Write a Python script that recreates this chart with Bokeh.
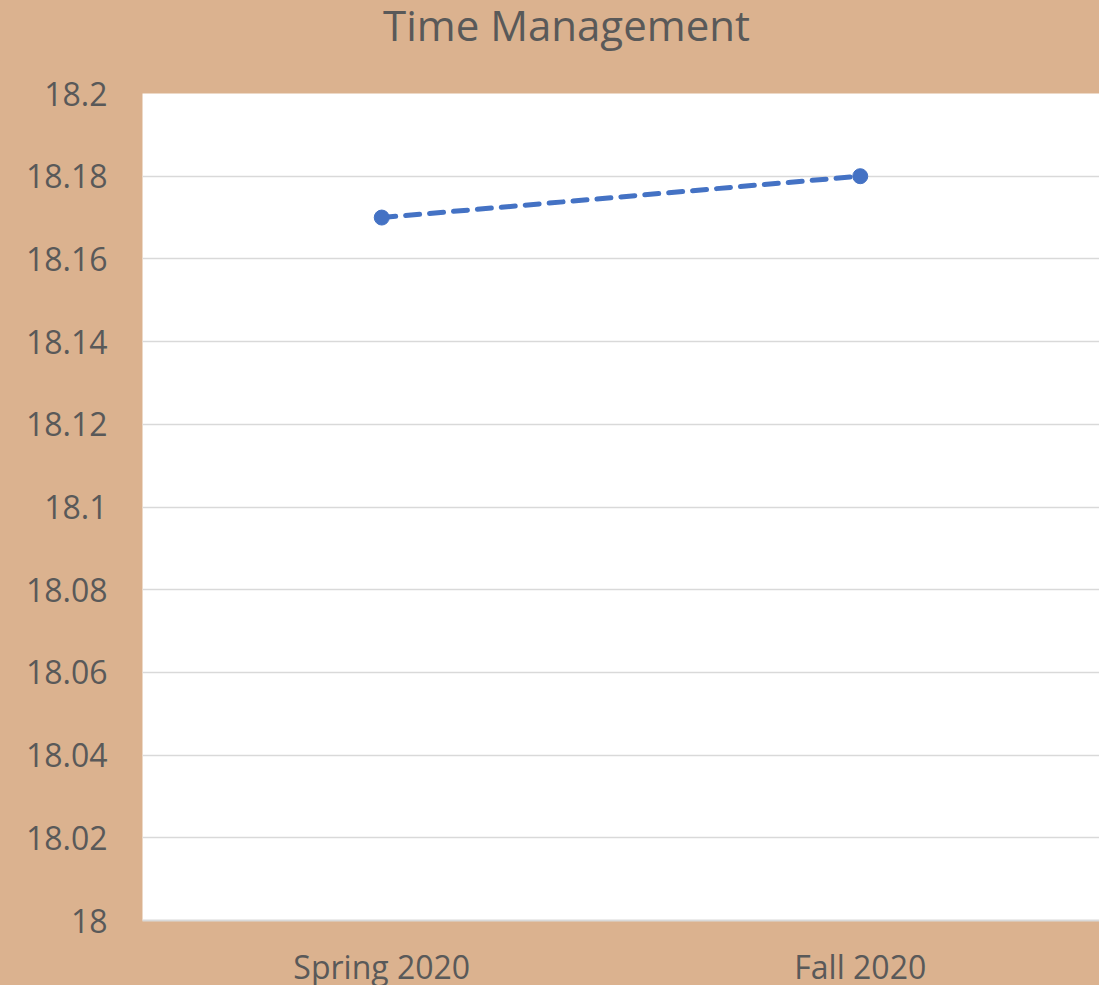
from bokeh.plotting import figure
from bokeh.models import FactorRange, Range1d, FixedTicker, CustomJSTickFormatter, ColumnDataSource, Div
from bokeh.layouts import column
from bokeh.embed import file_html
from bokeh.resources import INLINE

title_text = "Time Management"
categories = ["Spring 2020", "Fall 2020"]
values = [18.17, 18.18]
y_ticks = [18.0, 18.02, 18.04, 18.06, 18.08, 18.1, 18.12, 18.14, 18.16, 18.18, 18.2]

BG = "#DBB28F"
TXT = "#595959"
GRID = "#D9D9D9"
BLUE = "#4472C4"
FONT = "Open Sans"

title_div = Div(text=title_text, width=1099, height=60, margin=0,
                styles={"background-color": BG, "color": TXT, "font-family": FONT,
                        "font-size": "42px", "line-height": "50px", "text-align": "center",
                        "padding-left": "34px", "box-sizing": "border-box"})

p = figure(x_range=FactorRange(*categories, range_padding=0), y_range=Range1d(18.0, 18.2),
           width=1099, height=925, frame_width=957, frame_height=827,
           min_border_left=142, min_border_right=0, min_border_top=33, min_border_bottom=65,
           output_backend="svg", toolbar_location=None, margin=0,
           styles={"background-color": BG})

p.background_fill_color = "white"
p.border_fill_color = BG
p.outline_line_color = None

src = ColumnDataSource(dict(x=categories, y=values))
p.line("x", "y", source=src, line_color=BLUE, line_width=5, line_dash="14 10", line_cap="round")
p.scatter("x", "y", source=src, size=15, fill_color=BLUE, line_color=BLUE)

p.yaxis.ticker = FixedTicker(ticks=y_ticks)
p.yaxis.formatter = CustomJSTickFormatter(code="return Number(tick.toFixed(2)).toString();")
p.yaxis.axis_line_color = None
p.yaxis.major_tick_line_color = None
p.yaxis.minor_tick_line_color = None
p.yaxis.major_label_standoff = 29
p.yaxis.major_label_text_font = FONT
p.yaxis.major_label_text_font_size = "32px"
p.yaxis.major_label_text_color = TXT

p.xaxis.axis_line_color = GRID
p.xaxis.axis_line_width = 2
p.xaxis.major_tick_line_color = None
p.xaxis.minor_tick_line_color = None
p.xaxis.major_label_standoff = 18
p.xaxis.major_label_text_font = FONT
p.xaxis.major_label_text_font_size = "32px"
p.xaxis.major_label_text_color = TXT

p.xgrid.grid_line_color = None
p.ygrid.ticker = FixedTicker(ticks=y_ticks)
p.ygrid.grid_line_color = GRID
p.ygrid.grid_line_width = 1.5

layout = column(title_div, p, spacing=0, styles={"background-color": BG})
open("out.html", "w").write(file_html(layout, INLINE))
